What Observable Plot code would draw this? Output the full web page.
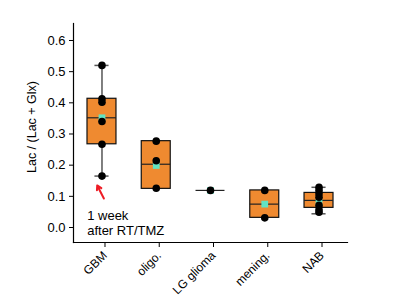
<!DOCTYPE html>
<html><head><meta charset="utf-8">
<script src="https://cdn.jsdelivr.net/npm/d3@7"></script>
<script src="https://cdn.jsdelivr.net/npm/@observablehq/plot@0.6"></script>
<style>body{margin:0;background:#fff}</style>
</head><body><div id="chart"></div>
<script>
const categories = ["GBM", "oligo.", "LG glioma", "mening.", "NAB"];
const q1 = [0.267, 0.124, 0.119, 0.031, 0.063];
const median = [0.352, 0.203, 0.119, 0.075, 0.087];
const q3 = [0.413, 0.277, 0.119, 0.119, 0.111];
const whiskerLow = [0.165, 0.124, 0.119, 0.031, 0.044];
const whiskerHigh = [0.520, 0.277, 0.119, 0.119, 0.129];
const means = [0.352, 0.199, 0.119, 0.075, 0.080];
const pointGroup = ["GBM","GBM","GBM","GBM","GBM","GBM",
  "oligo.","oligo.","oligo.",
  "LG glioma",
  "mening.","mening.",
  "NAB","NAB","NAB","NAB","NAB","NAB","NAB"];
const pointValue = [0.520,0.413,0.402,0.340,0.267,0.165,
  0.277,0.214,0.126,
  0.119,
  0.119,0.031,
  0.129,0.119,0.108,0.097,0.071,0.057,0.049];
const yTicks = [0, 0.1, 0.2, 0.3, 0.4, 0.5, 0.6];
const yLabel = "Lac / (Lac + Glx)";
const note = {group: "GBM", value: 0.165, text: "1 week\nafter RT/TMZ"};

const idx = d3.range(categories.length);
const ci = g => categories.indexOf(g);
const points = pointGroup.map((g, k) => ({i: ci(g), v: pointValue[k]}));
const hw = 0.267, cap = 0.13;
const lower = idx.filter(i => whiskerLow[i] < q1[i]);
const upper = idx.filter(i => whiskerHigh[i] > q3[i]);

const chart = Plot.plot({
  width: 400, height: 306,
  marginLeft: 73, marginRight: 53, marginTop: 23, marginBottom: 64,
  style: {fontFamily: "'Liberation Sans', Arial, sans-serif", fontSize: "13px", color: "#000", background: "#fff"},
  x: {domain: [-0.525, 4.525]},
  y: {domain: [-0.0481, 0.6545]},
  marks: [
    Plot.ruleX(upper, {x: i => i, y1: i => q3[i], y2: i => whiskerHigh[i], stroke: "#555", strokeWidth: 1.5}),
    Plot.ruleX(lower, {x: i => i, y1: i => whiskerLow[i], y2: i => q1[i], stroke: "#555", strokeWidth: 1.5}),
    Plot.ruleY(upper, {y: i => whiskerHigh[i], x1: i => i - cap, x2: i => i + cap, stroke: "#555", strokeWidth: 1.5}),
    Plot.ruleY(lower, {y: i => whiskerLow[i], x1: i => i - cap, x2: i => i + cap, stroke: "#555", strokeWidth: 1.5}),
    Plot.rect(idx, {x1: i => i - hw, x2: i => i + hw, y1: i => q1[i], y2: i => q3[i], fill: "#EF8A30", stroke: "#111", strokeWidth: 1.2}),
    Plot.ruleY(idx, {y: i => median[i], x1: i => i - hw, x2: i => i + hw, stroke: "#222", strokeWidth: 1.2}),
    Plot.dot(idx, {x: i => i, y: i => means[i], symbol: "square", r: 3.8, fill: "#62E3C2", stroke: null}),
    Plot.dot(points, {x: "i", y: "v", r: 3.8, fill: "#000", stroke: null}),
    Plot.arrow([note], {x1: d => ci(d.group) + 0.035, y1: d => d.value - 0.072, x2: d => ci(d.group) - 0.088, y2: d => d.value - 0.030,
      stroke: "#ee1c25", strokeWidth: 2, headLength: 6}),
    Plot.text([note], {x: d => ci(d.group) - 0.273, y: d => d.value - 0.104, text: "text", textAnchor: "start", lineAnchor: "top",
      lineHeight: 1.2, fontSize: 13, fill: "#000"}),
    Plot.frame({anchor: "left", stroke: "#000", strokeWidth: 1.2}),
    Plot.frame({anchor: "bottom", stroke: "#000", strokeWidth: 1.2}),
    Plot.axisY({ticks: yTicks, tickFormat: d3.format(".1f"), tickSize: 4, tickPadding: 4, fontSize: 13, label: null}),
    Plot.text([yLabel], {x: () => -1.299, y: () => 0.3225, text: d => d, rotate: -90, fontSize: 12.5, fill: "#000", clip: false}),
    Plot.axisX({ticks: idx, tickFormat: i => categories[i], tickRotate: -45, tickSize: 5, tickPadding: 6, dx: 3, fontSize: 12, label: null})
  ]
});
document.getElementById("chart").appendChild(chart);
</script>
</body></html>
